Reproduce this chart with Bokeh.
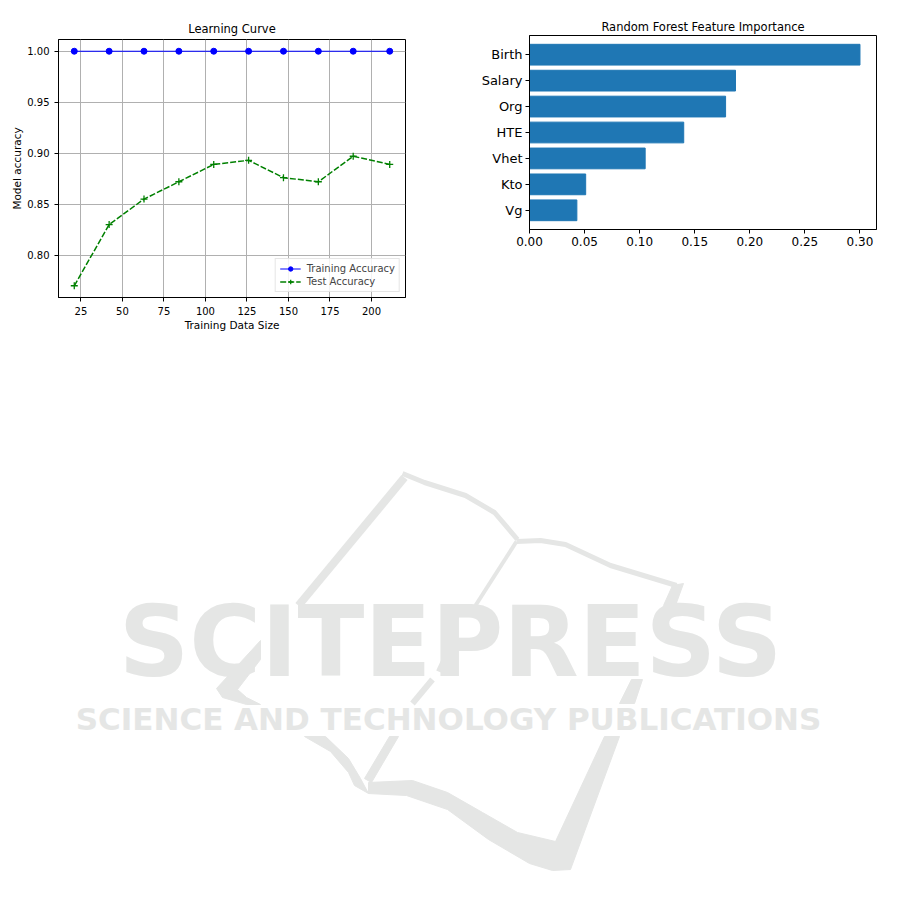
from bokeh.plotting import figure
from bokeh.layouts import row, column
from bokeh.models import Range1d, FactorRange, FixedTicker, NumeralTickFormatter, Legend, LegendItem
from bokeh.embed import file_html
from bokeh.resources import INLINE
from bokeh.core.properties import value

# ---------------- data ----------------
train_sizes = [21, 42, 63, 84, 105, 126, 147, 168, 189, 211]
train_accuracy = [1.0, 1.0, 1.0, 1.0, 1.0, 1.0, 1.0, 1.0, 1.0, 1.0]
test_accuracy = [0.770, 0.830, 0.855, 0.872, 0.889, 0.893, 0.876, 0.872, 0.897, 0.889]
size_ticks = [25, 50, 75, 100, 125, 150, 175, 200]
accuracy_ticks = [0.80, 0.85, 0.90, 0.95, 1.00]

features = ["Birth", "Salary", "Org", "HTE", "Vhet", "Kto", "Vg"]
importances = [0.300, 0.187, 0.178, 0.140, 0.105, 0.051, 0.043]
importance_ticks = [0.00, 0.05, 0.10, 0.15, 0.20, 0.25, 0.30]

FONT = "DejaVu Sans"


def style_axes(p, tick_size):
    for ax in (p.xaxis, p.yaxis):
        ax.axis_line_color = "black"
        ax.major_tick_line_color = "black"
        ax.major_tick_out = 4
        ax.major_tick_in = 0
        ax.minor_tick_line_color = None
        ax.major_label_text_font = FONT
        ax.major_label_text_font_size = tick_size
        ax.major_label_text_color = "black"
        ax.axis_label_text_font = FONT
        ax.axis_label_text_font_style = "normal"
        ax.axis_label_text_color = "black"
    p.outline_line_color = "black"
    p.outline_line_alpha = 1.0
    p.outline_line_width = 1
    p.title.align = "center"
    p.title.text_font = FONT
    p.title.text_font_style = "normal"
    p.title.text_color = "black"


# ---------------- learning curve ----------------
p1 = figure(width=420, height=335, output_backend="svg", toolbar_location=None,
            x_range=Range1d(11.5, 220.5), y_range=Range1d(0.7585, 1.0115),
            min_border_left=58, min_border_right=15, min_border_top=39, min_border_bottom=38,
            title="Learning Curve")
style_axes(p1, "10px")
p1.title.text_font_size = "11.5px"
p1.title.standoff = 7
p1.xaxis.ticker = FixedTicker(ticks=size_ticks)
p1.yaxis.ticker = FixedTicker(ticks=accuracy_ticks)
p1.yaxis.formatter = NumeralTickFormatter(format="0.00")
p1.xaxis.axis_label = "Training Data Size"
p1.yaxis.axis_label = "Model accuracy"
p1.xaxis.axis_label_text_font_size = "10.5px"
p1.yaxis.axis_label_text_font_size = "10.5px"
p1.xaxis.axis_label_standoff = 1
p1.yaxis.axis_label_standoff = 1
p1.grid.grid_line_color = "#b0b0b0"
p1.grid.grid_line_width = 1

l1 = p1.line(train_sizes, train_accuracy, line_color="blue", line_width=1.2)
s1 = p1.scatter(train_sizes, train_accuracy, marker="circle", size=6, color="blue")
l2 = p1.line(train_sizes, test_accuracy, line_color="green", line_width=1.5, line_dash="6 2")
s2 = p1.scatter(train_sizes, test_accuracy, marker="cross", size=7, line_color="green", line_width=1.3)

legend = Legend(items=[LegendItem(label="Training Accuracy", renderers=[l1, s1]),
                       LegendItem(label="Test Accuracy", renderers=[l2, s2])],
                location="bottom_right", margin=5, padding=4, spacing=2,
                label_text_font=FONT, label_text_font_size="10px", label_standoff=6,
                glyph_width=21, glyph_height=11, label_height=11,
                border_line_color="#cccccc", border_line_width=1,
                background_fill_alpha=0.85)
p1.add_layout(legend)

# ---------------- feature importance ----------------
p2 = figure(width=493, height=335, output_backend="svg", toolbar_location=None,
            y_range=FactorRange(factors=features[::-1], range_padding=0.0686),
            x_range=Range1d(0, 0.315),
            min_border_left=109, min_border_right=37, min_border_top=35, min_border_bottom=106,
            title="Random Forest Feature Importance")
style_axes(p2, "12px")
p2.title.text_font_size = "11.5px"
p2.title.standoff = 3
p2.yaxis.major_label_text_font_size = "13px"
p2.yaxis.major_label_standoff = 3
p2.xaxis.major_label_standoff = 3
p2.xaxis.ticker = FixedTicker(ticks=importance_ticks)
p2.xaxis.formatter = NumeralTickFormatter(format="0.00")
p2.grid.grid_line_color = None
p2.hbar(y=features, right=importances, left=0, height=0.8, color="#1f77b4")

# ---------------- watermark (decorative logo) ----------------
wm = figure(width=913, height=560, output_backend="svg", toolbar_location=None,
            x_range=Range1d(0, 913), y_range=Range1d(895, 335),
            min_border=0, x_axis_location=None, y_axis_location=None,
            outline_line_color=None)
wm.grid.grid_line_color = None
LOGO = "#e5e6e5"
logo_lines = {
    "xs": [[404, 298], [402, 424, 465, 494, 517], [516, 540, 565, 610, 676], [516, 475], [444, 438], [432, 412]],
    "ys": [[477, 605], [473, 482, 495, 512, 539], [541, 540, 544, 565, 585], [541, 605], [658, 671], [679, 703]],
    "w": [8, 5, 5, 4, 5, 6],
}
wm.multi_line(xs="xs", ys="ys", line_width="w", line_color=LOGO, source=logo_lines)
logo_shapes = {
    "xs": [[260, 216, 222, 246, 260, 246, 237, 260],
           [304, 325, 348, 360, 368, 354, 348, 330],
           [368, 412, 447, 482, 517, 555, 604, 619, 570, 552, 529, 488, 447, 406, 368],
           [619, 631, 642, 634],
           [663, 672, 683, 675],
           [389, 398, 371, 364]],
    "ys": [[640, 688, 697, 704, 704, 697, 689, 659],
           [736, 736, 758, 778, 793, 785, 772, 751],
           [782, 780, 792, 812, 832, 841, 736, 736, 869, 870, 863, 839, 809, 795, 793],
           [703, 679, 679, 703],
           [605, 585, 583, 605],
           [736, 736, 782, 778]],
}
wm.patches(xs="xs", ys="ys", fill_color=LOGO, line_color=LOGO, source=logo_shapes)
wm.text(x=[450], y=[641], text=["SCITEPRESS"], text_font=value(FONT), text_font_style="bold",
        text_font_size="98px", text_align="center", text_baseline="alphabetic", text_color=LOGO)
wm.text(x=[448], y=[718], text=["SCIENCE AND TECHNOLOGY PUBLICATIONS"], text_font=value(FONT),
        text_font_style="bold", text_font_size="31px", text_align="center", text_baseline="alphabetic",
        text_color=LOGO)

layout = column(row(column(p1), column(p2)), wm)
open("out.html", "w").write(file_html(layout, INLINE))
